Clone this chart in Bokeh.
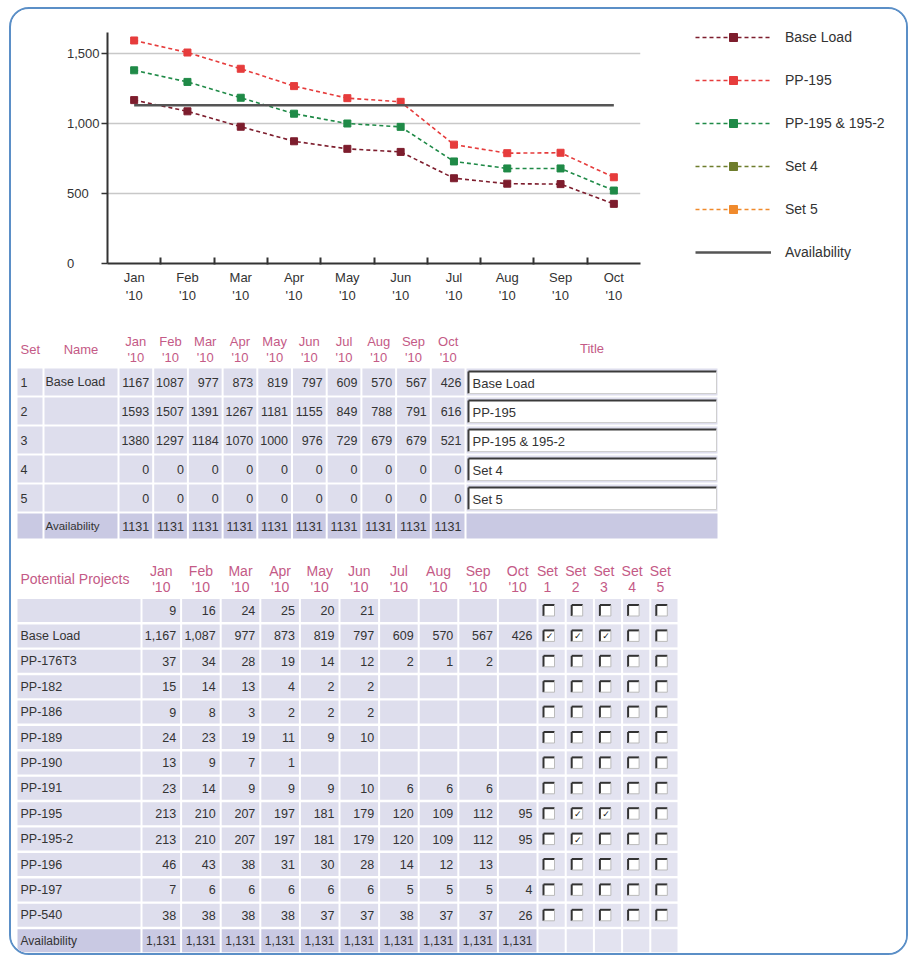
from bokeh.plotting import figure
from bokeh.models import (Range1d, FixedTicker, Legend, LegendItem, ColumnDataSource)
from bokeh.layouts import column, row
from bokeh.embed import file_html
from bokeh.resources import INLINE
from bokeh.core.properties import value

# ---------------- data ----------------
months = ["Jan", "Feb", "Mar", "Apr", "May", "Jun", "Jul", "Aug", "Sep", "Oct"]
year_label = "'10"
base_load = [1167, 1087, 977, 873, 819, 797, 609, 570, 567, 426]
pp195 = [1593, 1507, 1391, 1267, 1181, 1155, 849, 788, 791, 616]
pp195_2 = [1380, 1297, 1184, 1070, 1000, 976, 729, 679, 679, 521]
set4 = [0, 0, 0, 0, 0, 0, 0, 0, 0, 0]
set5 = [0, 0, 0, 0, 0, 0, 0, 0, 0, 0]
availability = [1131, 1131, 1131, 1131, 1131, 1131, 1131, 1131, 1131, 1131]
y_ticks = [0, 500, 1000, 1500]
y_tick_labels = ["0", "500", "1,000", "1,500"]

set_ids = ["1", "2", "3", "4", "5"]
set_names = ["Base Load", "", "", "", ""]
set_titles = ["Base Load", "PP-195", "PP-195 & 195-2", "Set 4", "Set 5"]
set_values = [base_load, pp195, pp195_2, set4, set5]

projects = ["", "Base Load", "PP-176T3", "PP-182", "PP-186", "PP-189", "PP-190",
            "PP-191", "PP-195", "PP-195-2", "PP-196", "PP-197", "PP-540"]
N = None
project_values = [
    [9, 16, 24, 25, 20, 21, N, N, N, N],
    [1167, 1087, 977, 873, 819, 797, 609, 570, 567, 426],
    [37, 34, 28, 19, 14, 12, 2, 1, 2, N],
    [15, 14, 13, 4, 2, 2, N, N, N, N],
    [9, 8, 3, 2, 2, 2, N, N, N, N],
    [24, 23, 19, 11, 9, 10, N, N, N, N],
    [13, 9, 7, 1, N, N, N, N, N, N],
    [23, 14, 9, 9, 9, 10, 6, 6, 6, N],
    [213, 210, 207, 197, 181, 179, 120, 109, 112, 95],
    [213, 210, 207, 197, 181, 179, 120, 109, 112, 95],
    [46, 43, 38, 31, 30, 28, 14, 12, 13, N],
    [7, 6, 6, 6, 6, 6, 5, 5, 5, 4],
    [38, 38, 38, 38, 37, 37, 38, 37, 37, 26],
]
project_checked = [[], [1, 2, 3], [], [], [], [], [], [], [2, 3], [2], [], [], []]

# ---------------- style ----------------
FONT = "Liberation Sans"
TXT = "#333333"
PINK = "#c45a86"
LAV = "#dedeed"
LAV_DARK = "#c9c9e3"
C_BASE = "#7d1d2d"
C_PP = "#e63c3c"
C_PP2 = "#1f8a47"
C_S4 = "#6e7d2c"
C_S5 = "#f08a2c"
C_AV = "#555555"
BODY = "12.5px"

# page geometry: content box origin (inside border)
OX, OY = 11, 9
WA, WL, HA = 640, 255, 300
WB, HB = WA + WL, 644
Y_MAX = 1650
PX_PER_UNIT = 0.14
FRAME_BOTTOM = 263
FRAME_H = round(Y_MAX * PX_PER_UNIT)

# ---------------- chart ----------------
pA = figure(width=WA, height=HA, x_range=Range1d(0, 10), y_range=Range1d(0, Y_MAX),
            output_backend="svg", toolbar_location=None,
            min_border_left=107 - OX, min_border_right=OX + WA - 640,
            min_border_top=FRAME_BOTTOM - FRAME_H - OY,
            min_border_bottom=HA - (FRAME_BOTTOM - OY))
pA.frame_align = False
pA.outline_line_color = None
pA.background_fill_color = "white"
pA.border_fill_color = "white"

xs = [i + 0.5 for i in range(len(months))]

def series(p, vals, color, visible=True):
    ln = p.line(xs, vals, line_color=color, line_width=1.6, line_dash="4 3", visible=visible)
    sc = p.scatter(xs, vals, marker="square", size=7, fill_color=color, line_color=color,
                   visible=visible)
    return [ln, sc]

series(pA, base_load, C_BASE)
series(pA, pp195, C_PP)
series(pA, pp195_2, C_PP2)
pA.line(xs, availability, line_color=C_AV, line_width=2.5)

xa = pA.xaxis[0]
xa.ticker = FixedTicker(ticks=xs, minor_ticks=[i for i in range(1, len(months))])
xa.major_label_overrides = {x: f"{m}\n{year_label}" for x, m in zip(xs, months)}
xa.major_tick_line_color = None
xa.minor_tick_in = 6
xa.minor_tick_out = 1
xa.minor_tick_line_color = "#333333"
xa.minor_tick_line_width = 2
xa.axis_line_color = "#333333"
xa.axis_line_width = 2
xa.major_label_text_font = FONT
xa.major_label_text_font_size = "13px"
xa.major_label_text_color = TXT
xa.major_label_standoff = 0

# left-aligned look: pad shorter labels with figure / punctuation spaces
FS, PS = "\u2007", "\u2008"
pads = {"0": FS + PS + FS + FS, "500": FS + PS, "1,000": "", "1,500": ""}
ya = pA.yaxis[0]
ya.ticker = FixedTicker(ticks=y_ticks)
ya.major_label_overrides = {t: lab + pads[lab] for t, lab in zip(y_ticks, y_tick_labels)}
ya.major_tick_out = 6
ya.major_tick_in = 0
ya.major_tick_line_color = "#333333"
ya.major_tick_line_width = 1.5
ya.minor_tick_line_color = None
ya.axis_line_color = "#333333"
ya.axis_line_width = 2
ya.major_label_text_font = FONT
ya.major_label_text_font_size = "13px"
ya.major_label_text_color = TXT
ya.major_label_standoff = 2

pA.xgrid.visible = False
pA.ygrid.ticker = FixedTicker(ticks=y_ticks[1:])
pA.ygrid.grid_line_color = "#c8c8c8"
pA.ygrid.grid_line_width = 1.5

# ---------------- legend panel ----------------
pL = figure(width=WL, height=HA, x_range=Range1d(0, 1), y_range=Range1d(0, 1),
            output_backend="svg", toolbar_location=None, x_axis_type=None, y_axis_type=None,
            min_border=0)
pL.frame_align = False
pL.grid.visible = False
pL.outline_line_color = None
pL.background_fill_color = "white"
pL.border_fill_color = "white"
g1 = series(pL, base_load, C_BASE, False)
g2 = series(pL, pp195, C_PP, False)
g3 = series(pL, pp195_2, C_PP2, False)
g4 = series(pL, set4, C_S4, False)
g5 = series(pL, set5, C_S5, False)
g6 = pL.line(xs, availability, line_color=C_AV, line_width=2.5, visible=False)
legend = Legend(items=[
    LegendItem(label="Base Load", renderers=g1),
    LegendItem(label="PP-195", renderers=g2),
    LegendItem(label="PP-195 & 195-2", renderers=g3),
    LegendItem(label="Set 4", renderers=g4),
    LegendItem(label="Set 5", renderers=g5),
    LegendItem(label="Availability", renderers=[g6]),
], location=(695 - (OX + WA), HA - (27 - OY) - 235), glyph_width=76, glyph_height=20,
    label_height=20, spacing=23, label_standoff=14, padding=0, margin=0,
    border_line_color=None, background_fill_alpha=0, label_text_font=FONT,
    label_text_font_size="14px", label_text_color=TXT, click_policy="none")
pL.add_layout(legend)

# ---------------- tables ----------------
TOP_B = OY + HA
pB = figure(width=WB, height=HB, x_range=Range1d(OX, OX + WB), y_range=Range1d(TOP_B + HB, TOP_B),
            output_backend="svg", toolbar_location=None, x_axis_type=None, y_axis_type=None,
            min_border=0)
pB.frame_align = False
pB.grid.visible = False
pB.outline_line_color = None
pB.background_fill_color = "white"
pB.border_fill_color = "white"

def texts(xs_, ys_, ts, align="left", color=TXT, size=BODY, font=FONT, style="normal"):
    src = ColumnDataSource(dict(x=list(xs_), y=list(ys_), t=list(ts)))
    pB.text(x="x", y="y", text="t", source=src, text_align=align, text_baseline="middle",
            text_color=color, text_font=value(font), text_font_size=size, text_font_style=style)

def cells(lefts, rights, tops, bottoms, color):
    pB.quad(left=lefts, right=rights, top=tops, bottom=bottoms, fill_color=color, line_color=None)

# ---- table 1 ----
t1_set = (16, 43)
t1_name = (43, 118)
t1_m0, t1_mw = 118, 34.7
t1_title = (118 + 10 * 34.7, 718)
t1_row0, t1_pitch, t1_rh = 368, 29, 27
H1 = "13px"
m_l = [t1_m0 + k * t1_mw for k in range(len(months))]
m_r = [l + t1_mw for l in m_l]
col_l = [t1_set[0], t1_name[0]] + m_l + [t1_title[0]]
col_r = [t1_set[1], t1_name[1]] + m_r + [t1_title[1]]

texts([20], [349], ["Set"], color=PINK, size=H1)
texts([(t1_name[0] + t1_name[1]) / 2], [349], ["Name"], align="center", color=PINK, size=H1)
texts([(l + r) / 2 for l, r in zip(m_l, m_r)], [341] * 10, months, align="center", color=PINK, size=H1)
texts([(l + r) / 2 for l, r in zip(m_l, m_r)], [357] * 10, [year_label] * 10, align="center", color=PINK, size=H1)
texts([(t1_title[0] + t1_title[1]) / 2], [348], ["Title"], align="center", color=PINK, size=H1)

n_sets = len(set_ids)
for r in range(n_sets + 1):
    top = t1_row0 + r * t1_pitch
    h = t1_rh if r < n_sets else 25
    color = LAV if r < n_sets else LAV_DARK
    cells([l + 1 for l in col_l], [rr - 1 for rr in col_r], [top] * len(col_l), [top + h] * len(col_l), color)

ys1 = [t1_row0 + r * t1_pitch + t1_rh / 2 for r in range(n_sets)]
texts([20] * n_sets, ys1, set_ids)
texts([45] * n_sets, ys1, set_names)
for k in range(len(months)):
    texts([m_r[k] - 4] * n_sets, ys1, [str(v[k]) for v in set_values], align="right")
y_av1 = t1_row0 + n_sets * t1_pitch + 12.5
texts([45], [y_av1], ["Availability"], size="11.5px")
texts([r - 4 for r in m_r], [y_av1] * 10, [str(v) for v in availability], align="right")

bx0, bx1 = t1_title[0] + 3, t1_title[1] - 2
b_top = [t1_row0 + r * t1_pitch + 3 for r in range(n_sets)]
b_bot = [t1_row0 + r * t1_pitch + t1_rh - 2 for r in range(n_sets)]
pB.quad(left=[bx0] * n_sets, right=[bx1] * n_sets, top=b_top, bottom=b_bot, fill_color="white", line_color=None)
pB.multi_line(xs=[[bx0, bx1] for _ in b_top] + [[bx0, bx0] for _ in b_top],
              ys=[[t, t] for t in b_top] + [[t, b] for t, b in zip(b_top, b_bot)],
              line_color="#3a3a3a", line_width=2)
pB.multi_line(xs=[[bx0, bx1] for _ in b_top] + [[bx1, bx1] for _ in b_top],
              ys=[[b, b] for b in b_bot] + [[t, b] for t, b in zip(b_top, b_bot)],
              line_color="#cfcfcf", line_width=1)
texts([bx0 + 4] * n_sets, [(t + b) / 2 + 1 for t, b in zip(b_top, b_bot)], set_titles, size="13px")

# ---- table 2 ----
t2_name = (16, 141)
t2_m0, t2_mw = 141, 39.6
t2_s0, t2_sw = 141 + 10 * 39.6, 28.2
t2_c0, t2_pitch, t2_rh = 610, 25.4, 23
H2 = "14px"
m2_l = [t2_m0 + k * t2_mw for k in range(len(months))]
m2_r = [l + t2_mw for l in m2_l]
s_l = [t2_s0 + k * t2_sw for k in range(5)]
s_r = [l + t2_sw for l in s_l]

texts([20], [578], ["Potential Projects"], color=PINK, size=H2)
texts([(l + r) / 2 for l, r in zip(m2_l, m2_r)], [570] * 10, months, align="center", color=PINK, size=H2)
texts([(l + r) / 2 for l, r in zip(m2_l, m2_r)], [586] * 10, [year_label] * 10, align="center", color=PINK, size=H2)
texts([l + 10 for l in s_l], [570] * 5, ["Set"] * 5, align="center", color=PINK, size=H2)
texts([l + 10 for l in s_l], [586] * 5, set_ids, align="center", color=PINK, size=H2)

n_proj = len(projects)
for r in range(n_proj + 1):
    c = t2_c0 + r * t2_pitch
    top, bot = c - t2_rh / 2, c + t2_rh / 2
    main = LAV if r < n_proj else LAV_DARK
    cl = [t2_name[0]] + m2_l
    cr = [t2_name[1]] + m2_r
    cells([l + 1 for l in cl], [x - 1 for x in cr], [top] * len(cl), [bot] * len(cl), main)
    cells([l + 1 for l in s_l], [x - 1 for x in s_r], [top] * 5, [bot] * 5, "#e3e3f0")

ys2 = [t2_c0 + r * t2_pitch for r in range(n_proj)]
texts([20] * n_proj, ys2, projects)
for k in range(len(months)):
    vals = [rw[k] for rw in project_values]
    texts([m2_r[k] - 5] * n_proj, ys2, ["" if v is None else f"{v:,}" for v in vals], align="right")
y_av2 = t2_c0 + n_proj * t2_pitch
texts([20], [y_av2], ["Availability"], size="12px")
texts([r - 5 for r in m2_r], [y_av2] * 10, [f"{v:,}" for v in availability], align="right", size="12px")

cb = 11
cx0, cx1, cy0, cy1, ck_x, ck_y = [], [], [], [], [], []
for r in range(n_proj):
    for k in range(5):
        x0 = s_l[k] + 6
        y0 = ys2[r] - cb / 2
        cx0.append(x0); cx1.append(x0 + cb); cy0.append(y0); cy1.append(y0 + cb)
        if (k + 1) in project_checked[r]:
            ck_x.append(x0 + cb / 2 + 0.5); ck_y.append(ys2[r] + 0.5)
pB.quad(left=cx0, right=cx1, top=cy0, bottom=cy1, fill_color="white", line_color=None)
pB.multi_line(xs=[[a, b] for a, b in zip(cx0, cx1)] + [[a, a] for a in cx0],
              ys=[[t, t] for t in cy0] + [[t, b] for t, b in zip(cy0, cy1)],
              line_color="#333333", line_width=2)
pB.multi_line(xs=[[a, b] for a, b in zip(cx0, cx1)] + [[b, b] for b in cx1],
              ys=[[b, b] for b in cy1] + [[t, b] for t, b in zip(cy0, cy1)],
              line_color="#bbbbbb", line_width=1)
texts(ck_x, ck_y, ["✓"] * len(ck_x), align="center", color="#111111", size="9px",
      font="DejaVu Sans", style="bold")

layout = column(row(pA, pL), pB,
                styles={"border": "2px solid #5b8fc7", "border-radius": "20px",
                        "background-color": "white", "overflow": "hidden",
                        "margin-left": "9px", "margin-top": "7px"})

open("out.html", "w").write(file_html(layout, INLINE))
